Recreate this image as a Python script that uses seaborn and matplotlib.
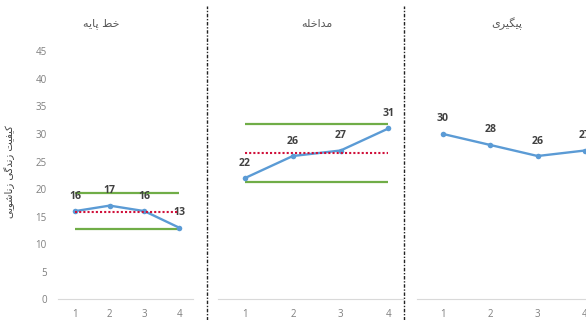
import matplotlib
matplotlib.use("Agg")
import matplotlib.pyplot as plt
import pandas as pd
import seaborn as sns
from matplotlib.lines import Line2D

# ---- data -------------------------------------------------------------
sessions = [1, 2, 3, 4]
phase_titles = ["خط پایه", "مداخله", "پیگیری"]
baseline_scores = [16, 17, 16, 13]
intervention_scores = [22, 26, 27, 31]
followup_scores = [30, 28, 26, 27]
band_upper = [19.2, 31.8]      # baseline, intervention
band_lower = [12.7, 21.2]
phase_means = [15.8, 26.5]
y_ticks = [0, 5, 10, 15, 20, 25, 30, 35, 40, 45]
y_label = "کیفیت زندگی زناشویی"

# ---- Persian shaping (presentation forms, visual order) ---------------
_FORMS = {
    "ا": ("\uFE8D", "\uFE8E"),
    "د": ("\uFEA9", "\uFEAA"),
    "ر": ("\uFEAD", "\uFEAE"),
    "ز": ("\uFEAF", "\uFEB0"),
    "و": ("\uFEED", "\uFEEE"),
    "ت": ("\uFE95", "\uFE96", "\uFE97", "\uFE98"),
    "خ": ("\uFEA5", "\uFEA6", "\uFEA7", "\uFEA8"),
    "ش": ("\uFEB5", "\uFEB6", "\uFEB7", "\uFEB8"),
    "ط": ("\uFEC1", "\uFEC2", "\uFEC3", "\uFEC4"),
    "ف": ("\uFED1", "\uFED2", "\uFED3", "\uFED4"),
    "ل": ("\uFEDD", "\uFEDE", "\uFEDF", "\uFEE0"),
    "م": ("\uFEE1", "\uFEE2", "\uFEE3", "\uFEE4"),
    "ن": ("\uFEE5", "\uFEE6", "\uFEE7", "\uFEE8"),
    "ه": ("\uFEE9", "\uFEEA", "\uFEEB", "\uFEEC"),
    "پ": ("\uFB56", "\uFB57", "\uFB58", "\uFB59"),
    "ک": ("\uFB8E", "\uFB8F", "\uFB90", "\uFB91"),
    "گ": ("\uFB92", "\uFB93", "\uFB94", "\uFB95"),
    "ی": ("\uFBFC", "\uFBFD", "\uFBFE", "\uFBFF"),
}


def shape_fa(text):
    out = []
    for i, ch in enumerate(text):
        forms = _FORMS.get(ch)
        if forms is None:
            out.append(ch)
            continue
        prev = text[i - 1] if i > 0 else ""
        nxt = text[i + 1] if i + 1 < len(text) else ""
        join_prev = prev in _FORMS and len(_FORMS[prev]) == 4
        join_next = len(forms) == 4 and nxt in _FORMS
        if join_prev and join_next:
            out.append(forms[3])
        elif join_prev:
            out.append(forms[1])
        elif join_next:
            out.append(forms[2])
        else:
            out.append(forms[0])
    return "".join(reversed(out))


# ---- style ------------------------------------------------------------
sns.set_theme(style="white")
plt.rcParams["font.family"] = ["Open Sans", "DejaVu Sans"]

BLUE = "#5B9BD5"
GREEN = "#70AD47"
RED = "#D0103A"
TICK = "#7F7F7F"
LABEL = "#404040"

W, H = 586, 320
fig = plt.figure(figsize=(W / 100, H / 100), dpi=100)
fig.patch.set_facecolor("white")

y0_px, y45_px = 299.3, 51.3
bottom = (H - y0_px) / H
height = (y0_px - y45_px) / H

# (left px, right px, xlim)
panels = [
    (58, 193, (0.51, 4.40)),
    (218, 403, (0.435, 4.305)),
    (417, 610, (0.45, 4.53)),
]
series = [baseline_scores, intervention_scores, followup_scores]
title_x = [101, 317, 507]

for k, ((lpx, rpx, xlim), scores) in enumerate(zip(panels, series)):
    ax = fig.add_axes([lpx / W, bottom, (rpx - lpx) / W, height])
    ax.set_facecolor("none")
    df = pd.DataFrame({"session": sessions, "score": scores})

    if k < len(band_upper):
        ax.hlines([band_upper[k], band_lower[k]], sessions[0], sessions[-1],
                  color=GREEN, lw=1.6, zorder=2)
        ax.hlines(phase_means[k], sessions[0], sessions[-1], color=RED,
                  lw=1.5, linestyles=(0, (1, 1.0)), zorder=4)

    sns.lineplot(data=df, x="session", y="score", ax=ax, color=BLUE,
                 lw=1.7, marker="o", markersize=4, markeredgewidth=0,
                 zorder=3)

    for s, v in zip(sessions, scores):
        ax.annotate(str(v), (s, v), xytext=(0, 10.8), textcoords="offset points",
                    ha="center", va="center", fontsize=7.6, fontweight="bold",
                    color=LABEL)

    ax.set_xlim(*xlim)
    ax.set_ylim(0, 45)
    ax.set_xticks(sessions)
    ax.set_xticklabels([str(s) for s in sessions])
    ax.set_xlabel("")
    ax.set_ylabel("")
    for side in ("top", "right", "left"):
        ax.spines[side].set_visible(False)
    ax.spines["bottom"].set_color("#D9D9D9")
    ax.spines["bottom"].set_linewidth(0.8)
    ax.tick_params(axis="both", length=0, colors=TICK, labelsize=7)
    ax.tick_params(axis="x", pad=7)
    if k == 0:
        ax.set_yticks(y_ticks)
        ax.tick_params(axis="y", pad=8)
    else:
        ax.set_yticks([])

    fig.text(title_x[k] / W, 1 - 24 / H, shape_fa(phase_titles[k]),
             ha="center", va="center", fontsize=8, color="#595959",
             family="DejaVu Sans")

fig.text(10 / W, 1 - 172 / H, shape_fa(y_label), rotation=90,
         ha="center", va="center", fontsize=7.2, color=LABEL,
         family="DejaVu Sans")

# phase separators
for xpx in (207, 404):
    fig.add_artist(Line2D([xpx / W, xpx / W], [0, 1 - 6 / H],
                          transform=fig.transFigure, color="#222222",
                          lw=1.0, linestyle=(0, (2.5, 1.2, 1, 1.2))))

fig.savefig("out.png", dpi=100)
